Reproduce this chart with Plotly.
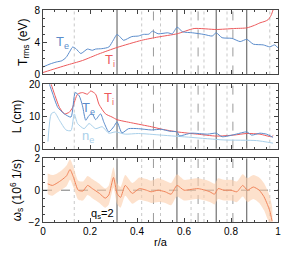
import plotly.graph_objects as go
from plotly.subplots import make_subplots

# ---- data ----
r_te_top = [0, 0.03, 0.056, 0.08, 0.098, 0.115, 0.126, 0.14, 0.161, 0.189, 0.21, 0.224, 0.25, 0.28, 0.30,
            0.315, 0.33, 0.343, 0.378, 0.406, 0.427, 0.45, 0.466, 0.49, 0.531, 0.55, 0.571, 0.594, 0.636,
            0.685, 0.72, 0.737, 0.762, 0.804, 0.839, 0.867, 0.895, 0.937, 0.965, 0.986, 1.0]
te_top = [0.93, 1.3, 1.54, 1.7, 2.1, 2.9, 3.4, 3.2, 2.6, 3.15, 3.0, 3.15, 3.2, 3.4, 4.3,
          4.97, 4.6, 4.24, 4.7, 4.77, 4.97, 5.0, 5.37, 5.05, 5.17, 5.05, 5.86, 5.3, 5.17,
          4.97, 4.77, 5.17, 4.56, 4.48, 4.08, 4.36, 3.76, 3.67, 3.43, 3.67, 3.3]

r_ti_top = [0, 0.05, 0.098, 0.168, 0.238, 0.315, 0.42, 0.49, 0.571, 0.643, 0.737, 0.811, 0.867, 0.9,
            0.923, 0.945, 0.958, 0.97, 0.979, 0.985]
ti_top = [0.24, 0.7, 1.13, 1.73, 2.55, 3.35, 4.24, 4.65, 5.05, 5.7, 5.58, 5.7, 5.78, 6.1,
          6.4, 6.6, 6.8, 7.3, 8.0, 8.5]

r_te_L = [0.02, 0.028, 0.042, 0.063, 0.091, 0.119, 0.137, 0.154, 0.168, 0.182, 0.196, 0.21, 0.224, 0.245,
          0.259, 0.28, 0.301, 0.315, 0.336, 0.364, 0.406, 0.461, 0.503, 0.54, 0.571, 0.58, 0.63, 0.70,
          0.737, 0.762, 0.822, 0.867, 0.888, 0.923, 0.951, 0.979]
te_L = [22, 19.9, 16.9, 12.8, 10.8, 9.8, 17.4, 16.4, 13.3, 8.8, 10.3, 10.8, 9.0, 10.8,
        8.2, 5.2, 6.8, 8.3, 4.9, 6.2, 6.2, 5.8, 6.0, 5.4, 5.2, 4.0, 4.8, 4.5,
        4.8, 3.7, 4.5, 5.2, 4.2, 4.8, 4.5, 3.5]

r_ti_L = [0.02, 0.035, 0.049, 0.07, 0.091, 0.112, 0.126, 0.147, 0.168, 0.189, 0.203, 0.224, 0.238,
          0.266, 0.294, 0.315, 0.378, 0.461, 0.508, 0.571, 0.657, 0.737, 0.811, 0.867, 0.923, 0.972, 0.98]
ti_L = [23, 19.9, 16.9, 12.8, 10.8, 11.3, 12.8, 16.9, 17.4, 16.9, 17.9, 16.9, 13.8,
        10.8, 9.8, 9.0, 8.0, 6.8, 6.0, 5.2, 4.5, 3.9, 4.2, 4.7, 4.5, 3.7, 4.1]

r_ne_L = [0.021, 0.035, 0.049, 0.07, 0.098, 0.119, 0.133, 0.147, 0.175, 0.196, 0.224, 0.252, 0.28,
          0.308, 0.35, 0.406, 0.503, 0.63, 0.77, 0.909, 0.979]
ne_L = [2.2, 10.8, 11.3, 8.8, 5.8, 5.6, 10.8, 7.8, 6.2, 7.8, 6.2, 6.8, 4.8,
        5.2, 4.5, 4.7, 4.2, 3.5, 2.7, 2.5, 1.7]

r_om = [0.02, 0.04, 0.06, 0.08, 0.10, 0.115, 0.13, 0.15, 0.17, 0.19, 0.21, 0.24, 0.265, 0.28, 0.30,
        0.315, 0.33, 0.35, 0.38, 0.41, 0.44, 0.46, 0.49, 0.52, 0.545, 0.57, 0.60, 0.63, 0.66, 0.69,
        0.71, 0.73, 0.745, 0.77, 0.80, 0.825, 0.85, 0.87, 0.895, 0.92, 0.94, 0.955, 0.965, 0.975]
omega = [0.4, 0.3, 0.45, 0.65, 0.9, 1.3, 0.8, 0.0, -0.05, 0.3, 0.1, -0.2, -0.5, -0.3, 0.8,
         -0.2, -0.45, 0.3, -0.2, 0.1, 0.0, -0.1, 0.0, -0.1, -0.25, 0.3, 0.0, 0.05, 0.1, 0.0,
         -0.1, -0.25, 0.1, 0.0, 0.0, -0.1, 0.3, 0.0, 0.2, 0.0, -0.4, -0.9, -1.3, -1.95]
omega_err = [0.65, 0.65, 0.6, 0.6, 0.65, 0.65, 0.65, 0.6, 0.6, 0.6, 0.6, 0.6, 0.6, 0.6, 0.65,
             0.65, 0.65, 0.65, 0.65, 0.7, 0.7, 0.7, 0.75, 0.7, 0.7, 0.7, 0.65, 0.65, 0.65, 0.65,
             0.65, 0.65, 0.65, 0.65, 0.65, 0.65, 0.7, 0.75, 0.75, 0.8, 0.85, 0.9, 0.9, 0.9]

solid_lines = [0.315, 0.57, 0.737, 0.867]
dashed_lines = [0.47, 0.66, 0.808]
dotted_lines = [0.133, 0.42, 0.50, 0.63, 0.685, 0.783, 0.965]

C_TE = "#5b8ccb"
C_TI = "#ec5a5c"
C_NE = "#a9d0ea"
C_OM = "#f0845a"
C_BAND = "rgba(251,205,170,0.6)"
FONT = "Liberation Sans, Arial, sans-serif"

fig = make_subplots(rows=3, cols=1, shared_xaxes=False, vertical_spacing=0.046)

fig.add_trace(go.Scatter(x=r_ti_top, y=ti_top, mode="lines", line=dict(color=C_TI, width=1, shape="spline", smoothing=0.6)), 1, 1)
fig.add_trace(go.Scatter(x=r_te_top, y=te_top, mode="lines", line=dict(color=C_TE, width=1, shape="spline", smoothing=0.6)), 1, 1)

fig.add_trace(go.Scatter(x=r_ne_L, y=ne_L, mode="lines", line=dict(color=C_NE, width=1, shape="spline", smoothing=0.6)), 2, 1)
fig.add_trace(go.Scatter(x=r_ti_L, y=ti_L, mode="lines", line=dict(color=C_TI, width=1, shape="spline", smoothing=0.6)), 2, 1)
fig.add_trace(go.Scatter(x=r_te_L, y=te_L, mode="lines", line=dict(color=C_TE, width=1, shape="spline", smoothing=0.6)), 2, 1)

upper = [v + e for v, e in zip(omega, omega_err)]
lower = [v - e for v, e in zip(omega, omega_err)]
fig.add_trace(go.Scatter(x=r_om + r_om[::-1], y=upper + lower[::-1], fill="toself", fillcolor=C_BAND,
                         line=dict(width=0, shape="spline", smoothing=0.6), mode="lines", hoverinfo="skip"), 3, 1)
fig.add_trace(go.Scatter(x=r_om, y=omega, mode="lines", line=dict(color=C_OM, width=1, shape="spline", smoothing=0.6)), 3, 1)

# vertical reference lines in each panel
for ax in ["y", "y2", "y3"]:
    xr = "x" if ax == "y" else "x" + ax[1:]
    for xv in dotted_lines:
        fig.add_shape(type="line", x0=xv, x1=xv, y0=0, y1=1, xref=xr,
                      yref=ax + " domain", line=dict(color="#c8c8c8", width=1, dash="dot"), layer="below")
    for xv in dashed_lines:
        fig.add_shape(type="line", x0=xv, x1=xv, y0=0, y1=1, xref=xr,
                      yref=ax + " domain", line=dict(color="#9a9a9a", width=1, dash="dash"), layer="below")
    for xv in solid_lines:
        fig.add_shape(type="line", x0=xv, x1=xv, y0=0, y1=1, xref=xr,
                      yref=ax + " domain", line=dict(color="#555555", width=1), layer="below")

fig.add_shape(type="line", x0=0, x1=1, y0=0, y1=0, xref="x3 domain", yref="y3",
              line=dict(color="#777777", width=1, dash="dash"), layer="below")

axis_common = dict(showline=True, linecolor="#444", linewidth=1, mirror="ticks", ticks="inside",
                   ticklen=4, tickcolor="#444", showgrid=False, zeroline=False,
                   tickfont=dict(family=FONT, size=10, color="#000"), ticklabeloverflow="allow")

fig.update_xaxes(range=[0, 1], dtick=0.2, minor=dict(ticks="inside", dtick=0.05, ticklen=2, tickcolor="#444"),
                 **axis_common)
fig.update_xaxes(showticklabels=False, row=1, col=1)
fig.update_xaxes(showticklabels=False, row=2, col=1)
fig.update_xaxes(title=dict(text="r/a", font=dict(family=FONT, size=11), standoff=2), tickformat="~g", row=3, col=1)

fig.update_yaxes(**axis_common)
fig.update_yaxes(range=[0, 8], tickvals=[0, 4, 8], minor=dict(ticks="inside", dtick=1, ticklen=2, tickcolor="#444"),
                 title=dict(text="T<sub>rms</sub> (eV)", font=dict(family=FONT, size=12), standoff=4), row=1, col=1)
fig.update_yaxes(range=[0, 20], tickvals=[0, 10, 20], minor=dict(ticks="inside", dtick=2, ticklen=2, tickcolor="#444"),
                 title=dict(text="L (cm)", font=dict(family=FONT, size=12), standoff=4), row=2, col=1)
fig.update_yaxes(range=[-2, 2], tickvals=[-2, 0, 2], ticktext=["\u22122", "0", "2"],
                 minor=dict(ticks="inside", dtick=0.5, ticklen=2, tickcolor="#444"),
                 title=dict(text="\u03c9<sub>s</sub> (10<sup>6</sup> 1/s)", font=dict(family=FONT, size=12), standoff=4),
                 row=3, col=1)

fig.update_layout(
    width=285, height=253, margin=dict(l=43, r=4, t=5, b=31),
    paper_bgcolor="white", plot_bgcolor="white", showlegend=False,
    font=dict(family=FONT, size=10, color="#000"),
    yaxis=dict(domain=[0.696, 1.0]),
    yaxis2=dict(domain=[0.346, 0.650]),
    yaxis3=dict(domain=[0.0, 0.300]),
)

fig.add_annotation(x=0.085, y=4.0, xref="x", yref="y", text="T<sub>e</sub>", font=dict(family=FONT, size=13, color=C_TE), showarrow=False)
fig.add_annotation(x=0.285, y=1.7, xref="x", yref="y", text="T<sub>i</sub>", font=dict(family=FONT, size=13, color=C_TI), showarrow=False)
fig.add_annotation(x=0.195, y=12.6, xref="x2", yref="y2", text="T<sub>e</sub>", font=dict(family=FONT, size=13, color=C_TE), showarrow=False)
fig.add_annotation(x=0.28, y=15.5, xref="x2", yref="y2", text="T<sub>i</sub>", font=dict(family=FONT, size=13, color=C_TI), showarrow=False)
fig.add_annotation(x=0.19, y=3.8, xref="x2", yref="y2", text="n<sub>e</sub>", font=dict(family=FONT, size=13, color=C_NE), showarrow=False)
fig.add_annotation(x=0.31, y=-1.5, xref="x3", yref="y3", text="q<sub>s</sub>=2", xanchor="right",
                   font=dict(family=FONT, size=11, color="#000"), showarrow=False)

fig.write_html("out.html", config={"displayModeBar": False},
               post_script="document.body.style.margin='0';document.body.style.overflow='hidden';")
